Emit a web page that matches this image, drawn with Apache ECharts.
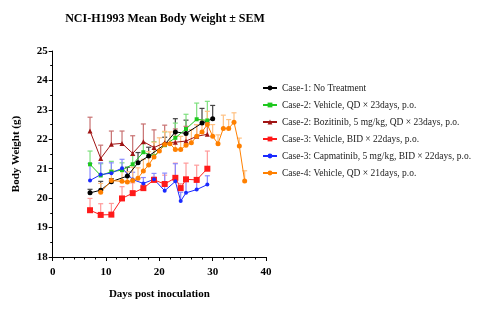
<!DOCTYPE html>
<html><head><meta charset="utf-8">
<script src="https://cdn.jsdelivr.net/npm/echarts@6/dist/echarts.min.js"></script>
<style>html,body{margin:0;padding:0;background:#fff}#c{width:477px;height:322px}</style>
</head><body><div id="c"></div>
<script>
// ---- data ----
const names = [
  'Case-1: No Treatment',
  'Case-2: Vehicle, QD × 23days, p.o.',
  'Case-2: Bozitinib, 5 mg/kg, QD × 23days, p.o.',
  'Case-3: Vehicle, BID × 22days, p.o.',
  'Case-3: Capmatinib, 5 mg/kg, BID × 22days, p.o.',
  'Case-4: Vehicle, QD × 21days, p.o.'
];
const case1Days = [7, 9, 11, 14, 16, 18, 21, 23, 25, 28, 30];
const case1Vals = [20.18, 20.27, 20.56, 20.75, 21.2, 21.43, 21.82, 22.25, 22.2, 22.55, 22.7];
const case1Err  = [0.12, 0.3, 0.1, 0.3, 0.35, 0.3, 0.25, 0.45, 0.45, 0.5, 0.45];

const case2VehDays = [7, 9, 11, 13, 15, 17, 19, 21, 23, 25, 27, 29];
const case2VehVals = [21.15, 20.77, 20.9, 20.95, 21.15, 21.56, 21.42, 21.8, 22.05, 22.35, 22.68, 22.64];
const case2VehErr  = [0.45, 0.4, 0.35, 0.25, 0.3, 0.3, 0.5, 0.45, 0.5, 0.5, 0.55, 0.65];

const bozDays = [7, 9, 11, 13, 15, 17, 19, 21, 23, 25, 27, 29];
const bozVals = [22.28, 21.35, 21.83, 21.86, 21.52, 21.92, 21.72, 21.88, 21.9, 21.94, 22.1, 22.17];
const bozErr  = [0.47, 0.45, 0.45, 0.42, 0.6, 0.6, 0.6, 0.6, 0.45, 0.5, 0.4, 0.4];

const case3VehDays = [7, 9, 11, 13, 15, 17, 19, 21, 23, 24, 25, 27, 29];
const case3VehVals = [19.59, 19.43, 19.44, 19.99, 20.17, 20.34, 20.62, 20.48, 20.69, 20.34, 20.64, 20.62, 21.0];
const case3VehErr  = [0.4, 0.38, 0.38, 0.4, 0.35, 0.12, 0.1, 0.3, 0.5, 0.15, 0.55, 0.5, 0.6];

const capDays = [7, 9, 11, 13, 15, 17, 19, 21, 23, 24, 25, 27, 29];
const capVals = [20.6, 20.8, 20.85, 21.02, 20.63, 20.5, 20.64, 20.25, 20.57, 19.9, 20.18, 20.29, 20.46];
const capErr  = [0.58, 0.4, 0.35, 0.3, 0.25, 0.2, 0.2, 0.6, 0.6, 0.3, 0.4, 0.3, 0.3];

const case4Days = [9, 11, 13, 14, 15, 16, 17, 18, 19, 20, 21, 22, 23, 24, 25, 26, 27, 28, 29, 30, 31, 32, 33, 34, 35, 36];
const case4Vals = [20.2, 20.6, 20.57, 20.55, 20.6, 20.68, 20.92, 21.13, 21.4, 21.6, 21.82, 21.85, 21.65, 21.65, 21.8, 21.88, 22.1, 22.25, 22.5, 22.1, 21.85, 22.37, 22.37, 22.58, 21.77, 20.58];
const case4Err  = [0.3, 0.35, 0.4, 0.35, 0.45, 0.35, 0.4, 0.45, 0.5, 0.45, 0.45, 0.4, 0.45, 0.45, 0.4, 0.45, 0.4, 0.4, 0.45, 0.4, 0.3, 0.45, 0.3, 0.32, 0.27, 0.35];

const yTicks = [18, 19, 20, 21, 22, 23, 24, 25];
const xTicks = [0, 10, 20, 30, 40];

// ---- styles ----
const groups = [
  {d: case1Days, v: case1Vals, e: case1Err, color: '#000000', err: '#444444', sym: 'circle', size: 5},
  {d: case2VehDays, v: case2VehVals, e: case2VehErr, color: '#1ec81e', err: '#7ee07e', sym: 'rect', size: 4},
  {d: bozDays, v: bozVals, e: bozErr, color: '#a01414', err: '#c87070', sym: 'triangle', size: 5},
  {d: case3VehDays, v: case3VehVals, e: case3VehErr, color: '#ff1a1a', err: '#ff9a9a', sym: 'rect', size: 6},
  {d: capDays, v: capVals, e: capErr, color: '#1a2aff', err: '#8a8aff', sym: 'circle', size: 4},
  {d: case4Days, v: case4Vals, e: case4Err, color: '#ff8000', err: '#ffc080', sym: 'circle', size: 5}
];

const serif = 'Liberation Serif';
const series = [];
groups.forEach((g, gi) => {
  series.push({
    type: 'custom', name: names[gi] + ' err', z: 1, silent: true,
    data: g.d.map((x, i) => [x, g.v[i], g.e[i]]),
    renderItem: function (params, api) {
      const x = api.value(0), y = api.value(1), e = api.value(2);
      const p0 = api.coord([x, y]);
      const p1 = api.coord([x, y + e]);
      return {
        type: 'group', children: [
          {type: 'line', shape: {x1: p0[0], y1: p0[1], x2: p1[0], y2: p1[1]}, style: {stroke: g.err, lineWidth: 1.2}},
          {type: 'line', shape: {x1: p1[0] - 2.5, y1: p1[1], x2: p1[0] + 2.5, y2: p1[1]}, style: {stroke: g.err, lineWidth: 1.2}}
        ]
      };
    }
  });
});
groups.forEach((g, gi) => {
  series.push({
    type: 'line', name: names[gi], z: 3,
    data: g.d.map((x, i) => [x, g.v[i]]),
    symbol: g.sym, symbolSize: g.size, showSymbol: true,
    itemStyle: {color: g.color},
    lineStyle: {color: g.color, width: 1},
    animation: false
  });
});

const chart = echarts.init(document.getElementById('c'), null, {renderer: 'canvas'});
chart.setOption({
  animation: false,
  title: {
    text: 'NCI-H1993 Mean Body Weight ± SEM',
    left: 160, top: 8, textAlign: 'center',
    textStyle: {fontFamily: serif, fontWeight: 'bold', fontSize: 12, color: '#000'}
  },
  legend: {
    data: names, orient: 'vertical', left: 257, top: 78, itemGap: 7,
    itemWidth: 14, itemHeight: 6,
    textStyle: {fontFamily: serif, fontSize: 9.5, color: '#222'}
  },
  grid: {left: 52.7, right: 211, top: 51, bottom: 65, containLabel: false},
  xAxis: {
    type: 'value', min: 0, max: 40, interval: 10,
    name: 'Days post inoculation', nameLocation: 'middle', nameGap: 32,
    nameTextStyle: {fontFamily: serif, fontWeight: 'bold', fontSize: 11, color: '#000'},
    axisLine: {show: true, lineStyle: {color: '#000', width: 1}},
    axisTick: {show: true, length: 4, lineStyle: {color: '#000'}},
    minorTick: {show: true, splitNumber: 5, length: 2.5, lineStyle: {color: '#000'}},
    axisLabel: {fontFamily: serif, fontWeight: 'bold', fontSize: 11, color: '#000', margin: 10,
      formatter: v => xTicks.includes(v) ? String(v) : ''},
    splitLine: {show: false}
  },
  yAxis: {
    type: 'value', min: 18, max: 25, interval: 1,
    name: 'Body Weight (g)', nameLocation: 'middle', nameGap: 31,
    nameTextStyle: {fontFamily: serif, fontWeight: 'bold', fontSize: 11, color: '#000'},
    axisLine: {show: true, lineStyle: {color: '#000', width: 1}},
    axisTick: {show: true, length: 4, lineStyle: {color: '#000'}},
    minorTick: {show: true, splitNumber: 2, length: 2.5, lineStyle: {color: '#000'}},
    axisLabel: {fontFamily: serif, fontWeight: 'bold', fontSize: 11, color: '#000', margin: 5,
      formatter: v => yTicks.includes(v) ? String(v) : ''},
    splitLine: {show: false}
  },
  series: series
});
</script>
</body></html>
